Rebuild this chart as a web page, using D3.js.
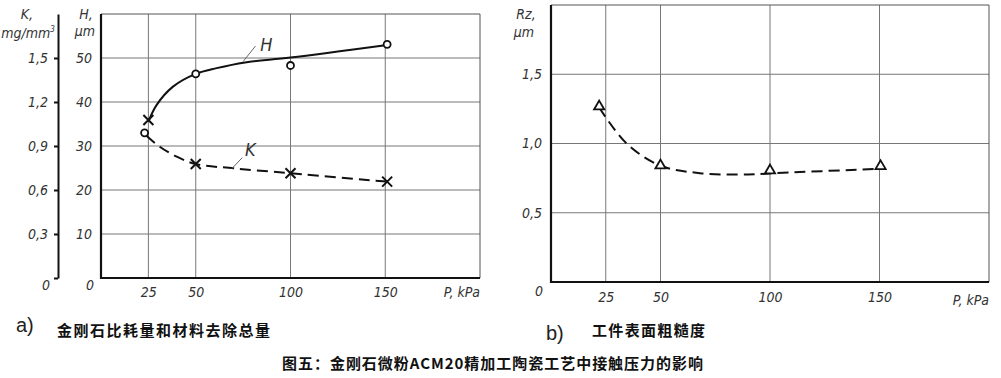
<!DOCTYPE html>
<html>
<head>
<meta charset="utf-8">
<script src="https://cdn.jsdelivr.net/npm/d3@7"></script>
<style>
  body { margin: 0; background: #fff; }
  .num { font-family: "Liberation Sans Narrow", "DejaVu Sans Condensed", sans-serif; font-style: italic; font-size: 14px; fill: #333; }
  .cjk { font-family: "Noto Sans CJK SC", sans-serif; font-weight: bold; fill: #111; }
</style>
</head>
<body>
<svg id="chart" width="1001" height="378"></svg>
<script>
// ---- data ----
// chart a)
const pTicks = [25, 50, 100, 150];
const hTicks = [10, 20, 30, 40, 50];
const hTickLabels = ["10", "20", "30", "40", "50"];
const kTicks = [0, 0.3, 0.6, 0.9, 1.2, 1.5];
const kTickLabels = ["", "0,3", "0,6", "0,9", "1,2", "1,5"];
// circles (H, um) and crosses (K, mg/mm3) as drawn
const circleP = [23, 50, 100, 151];
const circleH = [33.0, 46.4, 48.3, 53.1];
const crossP = [25, 50, 100, 151];
const crossK = [1.077, 0.777, 0.714, 0.657];
// hand-drawn fit curves
const hCurveP = [25, 29.3, 38, 50, 61, 76, 100, 150];
const hCurveH = [35.5, 39.3, 43.5, 46.4, 47.7, 49.0, 50.1, 52.9];
const kCurveP = [24, 31, 40, 50, 70, 100, 151];
const kCurveK = [0.97, 0.895, 0.827, 0.777, 0.748, 0.714, 0.657];

// chart b)
const rzTicks = [0.5, 1.0, 1.5];
const rzTickLabels = ["0,5", "1,0", "1,5"];
const triP = [22, 50, 100, 150.5];
const triRz = [1.267, 0.841, 0.805, 0.836];
const rzCurveP = [22, 34.5, 50, 68, 90, 100, 150];
const rzCurveRz = [1.26, 1.0, 0.84, 0.786, 0.776, 0.784, 0.818];

const svg = d3.select("#chart");

function zip(a, b) { return a.map((v, i) => [v, b[i]]); }

function drawCross(g, cx, cy) {
  const s = 5;
  g.append("path")
    .attr("d", `M${cx - s},${cy - s}L${cx + s},${cy + s}M${cx - s},${cy + s}L${cx + s},${cy - s}`)
    .attr("stroke", "#111").attr("stroke-width", 2).attr("fill", "none");
}

function numText(sel) {
  sel.selectAll("text").attr("class", "num").attr("font-family", null).attr("font-size", null);
}

// ================= chart a) =================
const x1 = d3.scaleLinear().domain([0, 200]).range([101, 480]);
const yH = d3.scaleLinear().domain([0, 60]).range([278, 14]);
const yK = d3.scaleLinear().domain([0, 1.8]).range([278, 14]);

const a = svg.append("g");

// grid
a.selectAll(".vg").data(pTicks).enter().append("line")
  .attr("x1", d => x1(d)).attr("x2", d => x1(d))
  .attr("y1", yH(60)).attr("y2", yH(0))
  .attr("stroke", "#777").attr("stroke-width", 1);
a.selectAll(".hg").data(hTicks).enter().append("line")
  .attr("x1", x1(0)).attr("x2", x1(200))
  .attr("y1", d => yH(d)).attr("y2", d => yH(d))
  .attr("stroke", "#777").attr("stroke-width", 1);

// frame: thin top/right, thick left/bottom
a.append("path")
  .attr("d", `M${x1(0)},${yH(60)}H${x1(200)}V${yH(0)}`)
  .attr("stroke", "#555").attr("stroke-width", 1).attr("fill", "none");
a.append("path")
  .attr("d", `M${x1(0)},${yH(60)}V${yH(0)}H${x1(200)}`)
  .attr("stroke", "#111").attr("stroke-width", 2.2).attr("fill", "none");

// K axis (separate spine on the far left)
const kAxis = a.append("g").attr("transform", "translate(58,0)")
  .call(d3.axisLeft(yK).tickValues(kTicks).tickSize(4).tickSizeOuter(0).tickPadding(6)
    .tickFormat((d, i) => kTickLabels[i]));
kAxis.select(".domain").attr("stroke", "#111").attr("stroke-width", 2);
kAxis.selectAll(".tick line").attr("stroke", "#111").attr("stroke-width", 2);
numText(kAxis);
a.append("text").attr("class", "num").attr("x", 50).attr("y", yK(0) + 12)
  .attr("text-anchor", "end").text("0");

// H axis labels (no own spine)
const hAxis = a.append("g").attr("transform", `translate(${x1(0)},0)`)
  .call(d3.axisLeft(yH).tickValues(hTicks).tickSize(0).tickPadding(9)
    .tickFormat((d, i) => hTickLabels[i]));
hAxis.select(".domain").remove();
numText(hAxis);
a.append("text").attr("class", "num").attr("x", 94).attr("y", yH(0) + 12)
  .attr("text-anchor", "end").text("0");

// P axis labels
const pAxis = a.append("g").attr("transform", `translate(0,${yH(0)})`)
  .call(d3.axisBottom(x1).tickValues(pTicks).tickSize(0).tickPadding(9));
pAxis.select(".domain").remove();
numText(pAxis);
a.append("text").attr("class", "num").attr("x", x1(200)).attr("y", yH(0) + 19)
  .attr("text-anchor", "end").text("P, kPa");

// axis titles
a.append("text").attr("class", "num").attr("x", 27).attr("y", 19).attr("text-anchor", "middle").text("K,");
a.append("text").attr("class", "num").attr("x", 28).attr("y", 38).attr("text-anchor", "middle")
  .text("mg/mm").append("tspan").attr("dy", -6).style("font-size", "8px").text("3");
a.append("text").attr("class", "num").attr("x", 86).attr("y", 19).attr("text-anchor", "middle").text("H,");
a.append("text").attr("class", "num").attr("x", 85).attr("y", 36).attr("text-anchor", "middle").text("μm");

// curves
const lineA_H = d3.line().x(d => x1(d[0])).y(d => yH(d[1])).curve(d3.curveCatmullRom);
const lineA_K = d3.line().x(d => x1(d[0])).y(d => yK(d[1])).curve(d3.curveCatmullRom);
a.append("path").attr("d", lineA_H(zip(hCurveP, hCurveH)))
  .attr("fill", "none").attr("stroke", "#111").attr("stroke-width", 2);
a.append("path").attr("d", lineA_K(zip(kCurveP, kCurveK)))
  .attr("fill", "none").attr("stroke", "#111").attr("stroke-width", 2)
  .attr("stroke-dasharray", "11,6");

// markers
a.selectAll(".circ").data(zip(circleP, circleH)).enter().append("circle")
  .attr("cx", d => x1(d[0])).attr("cy", d => yH(d[1])).attr("r", 3.5)
  .attr("fill", "#fff").attr("stroke", "#111").attr("stroke-width", 1.8);
zip(crossP, crossK).forEach(d => drawCross(a, x1(d[0]), yK(d[1])));

// curve labels with leader lines
a.append("line").attr("x1", x1(75)).attr("y1", yH(49.2)).attr("x2", x1(81.5)).attr("y2", yH(52.7))
  .attr("stroke", "#666").attr("stroke-width", 1);
a.append("text").attr("class", "num").attr("x", x1(84)).attr("y", yH(51.6))
  .style("font-size", "18px").text("H");
a.append("line").attr("x1", x1(69)).attr("y1", yK(0.745)).attr("x2", x1(74.5)).attr("y2", yK(0.82))
  .attr("stroke", "#666").attr("stroke-width", 1);
a.append("text").attr("class", "num").attr("x", x1(76)).attr("y", yK(0.83))
  .style("font-size", "18px").text("K");

// ================= chart b) =================
const x2 = d3.scaleLinear().domain([0, 200]).range([551, 989]);
const yR = d3.scaleLinear().domain([0, 2]).range([282, 5]);
const b = svg.append("g");

b.selectAll(".vg").data(pTicks).enter().append("line")
  .attr("x1", d => x2(d)).attr("x2", d => x2(d))
  .attr("y1", yR(2)).attr("y2", yR(0))
  .attr("stroke", "#777").attr("stroke-width", 1);
b.selectAll(".hg").data(rzTicks).enter().append("line")
  .attr("x1", x2(0)).attr("x2", x2(200))
  .attr("y1", d => yR(d)).attr("y2", d => yR(d))
  .attr("stroke", "#777").attr("stroke-width", 1);
b.append("path")
  .attr("d", `M${x2(0)},${yR(2)}H${x2(200)}V${yR(0)}`)
  .attr("stroke", "#555").attr("stroke-width", 1).attr("fill", "none");
b.append("path")
  .attr("d", `M${x2(0)},${yR(2)}V${yR(0)}H${x2(200)}`)
  .attr("stroke", "#111").attr("stroke-width", 2.2).attr("fill", "none");

const rAxis = b.append("g").attr("transform", `translate(${x2(0)},0)`)
  .call(d3.axisLeft(yR).tickValues(rzTicks).tickSize(0).tickPadding(9)
    .tickFormat((d, i) => rzTickLabels[i]));
rAxis.select(".domain").remove();
numText(rAxis);
b.append("text").attr("class", "num").attr("x", 543).attr("y", yR(0) + 14)
  .attr("text-anchor", "end").text("0");

const pAxis2 = b.append("g").attr("transform", `translate(0,${yR(0)})`)
  .call(d3.axisBottom(x2).tickValues(pTicks).tickSize(0).tickPadding(10));
pAxis2.select(".domain").remove();
numText(pAxis2);
b.append("text").attr("class", "num").attr("x", x2(200)).attr("y", yR(0) + 23)
  .attr("text-anchor", "end").text("P, kPa");

b.append("text").attr("class", "num").attr("x", 526).attr("y", 19).attr("text-anchor", "middle").text("Rz,");
b.append("text").attr("class", "num").attr("x", 524).attr("y", 37).attr("text-anchor", "middle").text("μm");

const lineB = d3.line().x(d => x2(d[0])).y(d => yR(d[1])).curve(d3.curveCatmullRom);
b.append("path").attr("d", lineB(zip(rzCurveP, rzCurveRz)))
  .attr("fill", "none").attr("stroke", "#111").attr("stroke-width", 2)
  .attr("stroke-dasharray", "11,6");

const tri = d3.symbol().type(d3.symbolTriangle).size(45);
b.selectAll(".tri").data(zip(triP, triRz)).enter().append("path")
  .attr("d", tri)
  .attr("transform", d => `translate(${x2(d[0])},${yR(d[1])})`)
  .attr("fill", "#fff").attr("stroke", "#111").attr("stroke-width", 1.8);

// ================= captions =================
svg.append("text").attr("x", 16).attr("y", 332)
  .attr("font-family", "Liberation Sans, Arial, sans-serif").attr("font-size", 20).attr("fill", "#222").text("a)");
svg.append("text").attr("class", "cjk").attr("x", 57).attr("y", 336)
  .attr("font-size", 15).attr("textLength", 213).attr("lengthAdjust", "spacing").text("金刚石比耗量和材料去除总量");
svg.append("text").attr("x", 546).attr("y", 340)
  .attr("font-family", "Liberation Sans, Arial, sans-serif").attr("font-size", 20).attr("fill", "#222").text("b)");
svg.append("text").attr("class", "cjk").attr("x", 592).attr("y", 336)
  .attr("font-size", 15).attr("textLength", 113).attr("lengthAdjust", "spacing").text("工件表面粗糙度");
svg.append("text").attr("class", "cjk").attr("x", 282).attr("y", 369)
  .attr("font-size", 15).attr("textLength", 421).attr("lengthAdjust", "spacing")
  .text("图五：金刚石微粉ACM20精加工陶瓷工艺中接触压力的影响");
</script>
</body>
</html>
